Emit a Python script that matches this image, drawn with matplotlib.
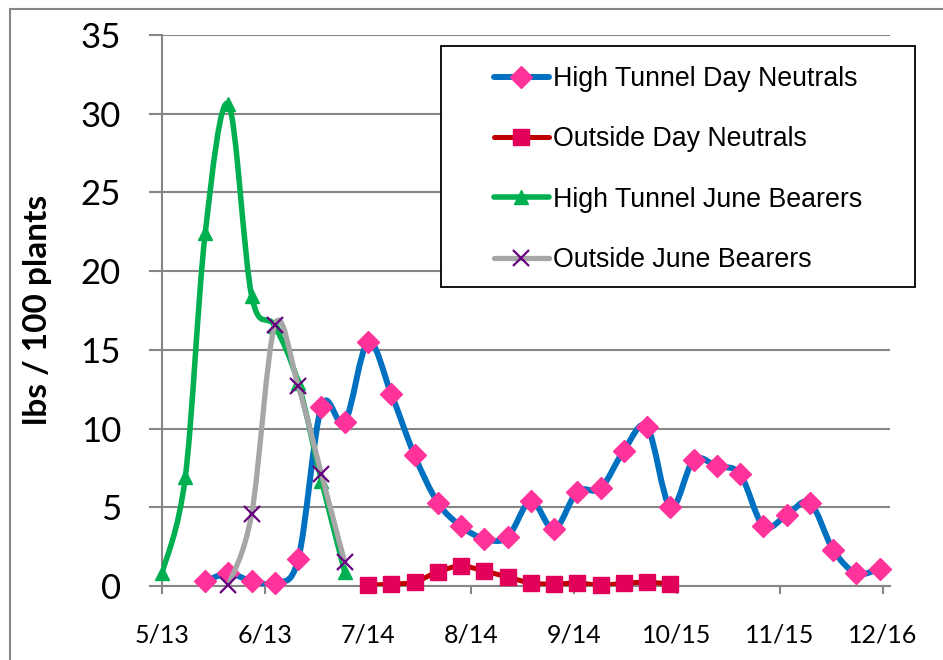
import datetime as dt
import numpy as np
import pandas as pd
import matplotlib
matplotlib.use('Agg')
import matplotlib.pyplot as plt
import matplotlib.dates as mdates
from matplotlib.path import Path
from matplotlib.patches import PathPatch, Rectangle
from matplotlib.lines import Line2D

# harvest data, lbs / 100 plants
ht_dn_dates = pd.date_range('2013-05-26', periods=30, freq='7D')
ht_dn = [0.3, 0.8, 0.3, 0.2, 1.7, 11.4, 10.4, 15.5, 12.2, 8.3, 5.3, 3.8, 3.0, 3.1,
         5.4, 3.6, 6.0, 6.2, 8.6, 10.1, 5.0, 8.0, 7.6, 7.1, 3.8, 4.5, 5.3, 2.3, 0.8, 1.1]

out_dn_dates = pd.date_range('2013-07-14', periods=14, freq='7D')
out_dn = [0.05, 0.12, 0.25, 0.9, 1.27, 0.95, 0.57, 0.19, 0.12, 0.19, 0.05, 0.17, 0.24, 0.12]

ht_jb_dates = pd.to_datetime(['2013-05-13', '2013-05-20', '2013-05-26', '2013-06-02',
                              '2013-06-09', '2013-06-16', '2013-06-23', '2013-06-30',
                              '2013-07-07'])
ht_jb = [0.8, 6.9, 22.4, 30.6, 18.4, 16.5, 12.9, 6.7, 0.9]

out_jb_dates = pd.date_range('2013-06-02', periods=6, freq='7D')
out_jb = [0.05, 4.6, 16.6, 12.7, 7.1, 1.5]

tick_dates = pd.to_datetime(['2013-05-13', '2013-06-13', '2013-07-14', '2013-08-14',
                             '2013-09-14', '2013-10-15', '2013-11-15', '2013-12-16'])
tick_labels = ['5/13', '6/13', '7/14', '8/14', '9/14', '10/15', '11/15', '12/16']

labels = ['High Tunnel Day Neutrals', 'Outside Day Neutrals',
          'High Tunnel June Bearers', 'Outside June Bearers']


def smooth_path(dates, vals):
    # excel style smoothed line: cubic bezier through every point
    P = np.column_stack([mdates.date2num(dates), vals])
    n = len(P)
    verts = [P[0]]
    codes = [Path.MOVETO]
    for i in range(n - 1):
        p0 = P[max(i - 1, 0)]
        p1 = P[i]
        p2 = P[i + 1]
        p3 = P[min(i + 2, n - 1)]
        verts += [p1 + (p2 - p0) / 6, p2 - (p3 - p1) / 6, p2]
        codes += [Path.CURVE4] * 3
    return Path(verts, codes)


grey = '#868686'
fig = plt.figure(figsize=(9.43, 6.6), dpi=100)
ax = fig.add_axes([162/943, 1-586/660, (890-162)/943, (586-35)/660])

styles = [
    (ht_dn_dates, ht_dn, '#0070C0', 4.3, 'D', 11, '#FF3399', 1),
    (out_dn_dates, out_dn, '#C00000', 3.6, 's', 11.5, '#E3005A', 1),
    (ht_jb_dates, ht_jb, '#00B050', 4.0, '^', 10.5, '#00B050', 1),
    (out_jb_dates, out_jb, '#A6A6A6', 3.8, 'x', 11, '#660080', 1.6),
]
handles = []
for k, (d, v, lc, lw, mk, ms, mc, mew) in enumerate(styles):
    ax.add_patch(PathPatch(smooth_path(d, v), fill=False, edgecolor=lc, lw=lw,
                           capstyle='round', joinstyle='round', zorder=3 + 2*k))
    ax.plot(d, v, linestyle='none', marker=mk, ms=ms, color=mc, mec=mc, mew=mew,
            zorder=4 + 2*k, clip_on=False)
    handles.append(Line2D([], [], color=lc, lw=lw, solid_capstyle='round',
                          marker=mk, ms=ms, mfc=mc, mec=mc, mew=mew))

x0 = dt.datetime(2013, 5, 13)
ax.set_xlim(x0, x0 + dt.timedelta(days=219.1))
ax.set_ylim(0, 35)
ax.set_yticks(np.arange(0, 36, 5))
ax.set_xticks(tick_dates)
ax.set_xticklabels(tick_labels)

for s in ['top', 'right']:
    ax.spines[s].set_visible(False)
for s in ['left', 'bottom']:
    ax.spines[s].set_color(grey)
    ax.spines[s].set_linewidth(1.5)
ax.grid(axis='y', color=grey, lw=1.5)
ax.set_axisbelow(True)
ax.tick_params(axis='y', length=9.5, width=1.5, color=grey, pad=20, labelsize=25)
ax.tick_params(axis='x', length=6, width=1.5, color=grey, pad=21, labelsize=18)
for t in ax.get_xticklabels() + ax.get_yticklabels():
    t.set_fontfamily('Lato')

fig.text(38/943, 1-310/660, 'lbs / 100 plants', rotation=90, ha='center', va='center',
         fontsize=24, fontweight='bold', family='Lato')

# outer chart frame
fig.add_artist(Rectangle((10/943, -0.1), 1.2, 1.1 - 9/660, transform=fig.transFigure,
                         fill=False, edgecolor=grey, lw=1.5))
# legend frame
fig.add_artist(Rectangle((441/943, 1-287/660), (915-441)/943, (287-46)/660,
                         transform=fig.transFigure, facecolor='white',
                         edgecolor='black', lw=1.3, zorder=10))
leg = fig.legend(handles, labels, loc='upper left', bbox_to_anchor=(494/943, 1-66/660),
                 frameon=False, prop={'family': 'Liberation Sans', 'size': 19.3},
                 handlelength=2.05, handletextpad=0.15, labelspacing=1.28,
                 borderaxespad=0, borderpad=0)
leg.set_zorder(11)

fig.savefig('out.png', dpi=100)
